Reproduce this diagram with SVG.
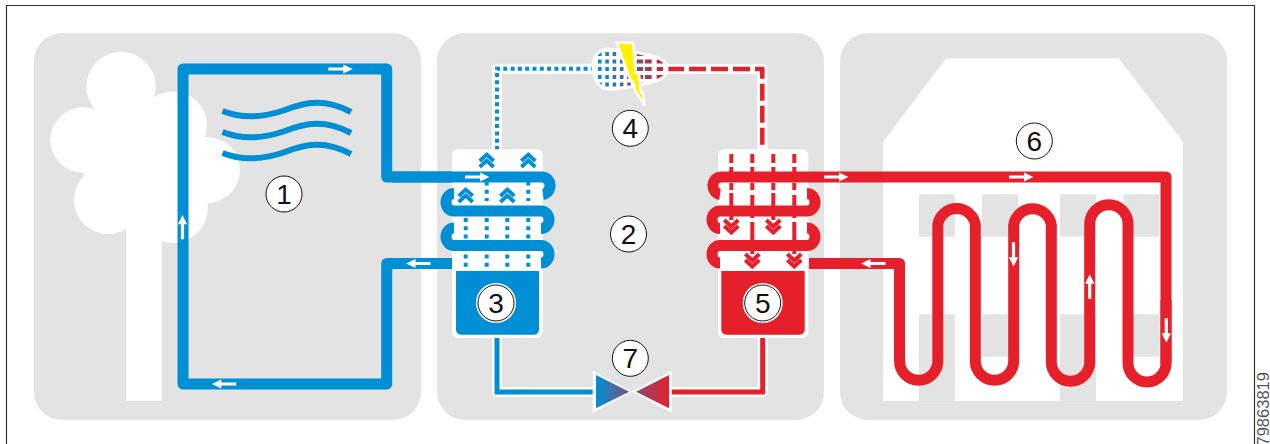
<svg xmlns="http://www.w3.org/2000/svg" width="1270" height="444" viewBox="0 0 1270 444">
<style>
.panel{fill:#e3e3e3}
.w{fill:#fff}
.bp{fill:none;stroke:#008fd5;stroke-width:11;stroke-linejoin:round}
.rp{fill:none;stroke:#e5202a;stroke-width:11;stroke-linejoin:round}
.wave{fill:none;stroke:#008fd5;stroke-width:6}
.bd{fill:none;stroke:#008fd5;stroke-width:4;stroke-dasharray:4 4.2}
.rd{fill:none;stroke:#e5202a;stroke-width:4}
.halo{fill:none;stroke:#fff;stroke-width:10;stroke-linejoin:round}
.chb{fill:none;stroke:#008fd5;stroke-width:3.8}
.chr{fill:none;stroke:#e5202a;stroke-width:4}
.ring{fill:#fff;stroke:#111;stroke-width:1}
.num{font-family:"Liberation Sans",Arial,sans-serif;font-size:28px;fill:#111;text-anchor:middle}
.ar{fill:#fff}
</style>
<defs>
<path id="arrow" d="M0-1.6H15V-4.6L24.4 0L15 4.6V1.6H0Z"/>
<path id="cu" d="M-7 8L0 1.5L7 8M-7 14L0 7.5L7 14"/>
<path id="cd" d="M-7-8L0-1.5L7-8M-7-14L0-7.5L7-14"/>
<linearGradient id="gc" gradientUnits="userSpaceOnUse" x1="600" y1="0" x2="665" y2="0"><stop offset="0" stop-color="#008fd5"/><stop offset="1" stop-color="#d8202e"/></linearGradient>
<linearGradient id="gb" gradientUnits="userSpaceOnUse" x1="596" y1="0" x2="630" y2="0"><stop offset="0" stop-color="#008fd5"/><stop offset="1" stop-color="#80507a"/></linearGradient>
<linearGradient id="gr" gradientUnits="userSpaceOnUse" x1="669" y1="0" x2="636" y2="0"><stop offset="0" stop-color="#e5202a"/><stop offset="1" stop-color="#8a4a72"/></linearGradient>
<clipPath id="cc"><path d="M594.5 66C594.5 56 601 50.5 608 50.5C625 50.5 640 54.5 652 57.5C661 59.5 666 64 666 69C666 74 661 78.5 652 80.5C640 83.5 625 87.5 608 87.5C601 87.5 594.5 79 594.5 66Z"/></clipPath>
</defs>

<g id="frame"><path d="M6.5 444V5.5H1254.5V444" fill="none" stroke="#333" stroke-width="1.2"/></g>

<g id="source-panel">
<rect class="panel" x="34" y="33" width="387" height="387" rx="28"/>
<g id="tree" class="w">
<circle cx="121" cy="86.5" r="34.7"/><circle cx="173" cy="125.5" r="34"/><circle cx="83" cy="140" r="32.7"/><circle cx="207" cy="170" r="33"/><circle cx="108" cy="200" r="34"/><circle cx="173" cy="208" r="35"/><circle cx="135" cy="155" r="55"/>
<rect x="126" y="200" width="35.7" height="200.7"/>
</g>
</g>
<g id="process-panel"><rect class="panel" x="437" y="33" width="387" height="387" rx="28"/></g>
<g id="building-panel">
<rect class="panel" x="840" y="33" width="387" height="387" rx="28"/>
<path id="house" class="w" d="M883.3 141.7L946 58.3H1118.7L1183 141.7V400.7H883.3Z"/>
<path id="windows" class="panel" d="M919 194.3h36v42.4h-36zM982 194.3h36.3v42.4h-36.3zM1060 194.3h36v42.4h-36zM1123.3 194.3h36v42.4h-36zM919 314.3h36v86.4h-36zM982 314.3h36.3v42.4h-36.3zM1060 314.3h36v86.4h-36zM1123.3 314.3h36v42.4h-36z"/>
</g>

<g id="connectors">
<path class="wave" d="M222.5 111C240 118 262 118 285 110C305 102 325 98 351 112"/>
<path class="wave" d="M222.5 132C240 139 262 139 285 131C305 123 325 119 351 133"/>
<path class="wave" d="M222.5 153C240 160 262 160 285 152C305 144 325 140 351 154"/>
<path class="bp" d="M452 263.5H386.7V384H183V69H386.7V177H452"/>

<path class="halo" d="M497 150V68.7H595"/>
<path class="bd" d="M497 150V68.7H595" style="stroke-dasharray:4 3.3"/>
<path class="halo" d="M665 69H762.3V150"/>
<path class="rd" d="M667 69H762.3V150" style="stroke-width:4.5;stroke-dasharray:17 5"/>

<path class="halo" d="M497 337V392H594"/>
<path class="bp" style="stroke-width:5;stroke-linejoin:miter" d="M497 334V392H594"/>
<path class="halo" d="M762.7 337V392H671"/>
<path class="rp" style="stroke-width:5;stroke-linejoin:miter" d="M762.7 334V392H671"/>
</g>

<g id="evaporator">
<rect class="w" x="452" y="149.3" width="90.7" height="188.7" rx="6"/>
<path d="M456 271H539V329.7a5 5 0 0 1-5 5H461a5 5 0 0 1-5-5Z" fill="#008fd5"/>
<path class="bd" d="M465.7 218V239M465.7 254.5V268M486.7 181.5V201M486.7 218V239M486.7 254.5V268M507.3 218V239M507.3 254.5V268M528.3 181.5V201M528.3 218V239M528.3 254.5V268"/>
<g class="chb"><use href="#cu" x="486.7" y="153"/><use href="#cu" x="528.3" y="153"/><use href="#cu" x="465.7" y="188"/><use href="#cu" x="507.3" y="188"/></g>
<path class="bp" d="M392 177H541A8 8.75 0 0 1 543 194.5"/>
<path class="bp" d="M454 193.5A8 8.75 0 0 0 454 211H541A8 8.75 0 0 1 541 228.5"/>
<path class="bp" d="M454 228A8 8.75 0 0 0 454 245.5H541A8 8.75 0 0 1 541 263"/>
</g>

<g id="condenser">
<rect class="w" x="718" y="149.3" width="90.3" height="188.7" rx="6"/>
<path d="M721.3 271H804.7V329.7a5 5 0 0 1-5 5H726.3a5 5 0 0 1-5-5Z" fill="#e5202a"/>
<path class="rd" d="M731.3 154V163M731.3 167V172M731.3 183V190M731.3 193V220M752.3 154V163M752.3 167V172M752.3 183V190M752.3 195V218M752.3 222V254M773.3 154V163M773.3 167V172M773.3 183V190M773.3 193V220M794.3 154V163M794.3 167V172M794.3 183V190M794.3 195V218M794.3 222V254"/>
<g class="chr"><use href="#cd" x="731.3" y="234"/><use href="#cd" x="773.3" y="234"/><use href="#cd" x="752.3" y="268"/><use href="#cd" x="794.3" y="268"/></g>
<path class="rp" d="M1166 363V177H722A8 8.75 0 0 0 720 194.5"/>
<path class="rp" d="M807 193.5A8 8.75 0 0 1 807 211H720A8 8.75 0 0 0 720 228.5"/>
<path class="rp" d="M807 228A8 8.75 0 0 1 807 245.5H720A8 8.75 0 0 0 720 263"/>
</g>

<g id="floor-heating">
<path class="rp" d="M809 263.5H899.5V361A19 19 0 0 0 937.8 361V224.5A19 19 0 0 1 975.3 224.5V361A19 19 0 0 0 1013.7 361V225A19 19 0 0 1 1051.3 225V362A19 19 0 0 0 1089.7 362V224A19 19 0 0 1 1128 224V363A19 19 0 0 0 1166 363V300"/>
</g>

<g id="compressor">
<path d="M593 66C593 55 600 49 608 49C625 49 640 53 652 56C662 58 667 63 667 69C667 75 662 80 652 82C640 85 625 89 608 89C600 89 593 80 593 66Z" fill="#fff" stroke="#fff" stroke-width="3"/>
<g clip-path="url(#cc)">
<path d="M598 54H667M598 61.5H667M598 69H667M598 77H667M598 84.5H667" fill="none" stroke="url(#gc)" stroke-width="4" style="stroke-dasharray:3.6 3.7 3.6 3.7 3.6 3.7 3.6 3.7 3.6 5.9 6.6 1.7 6.7 5 6.3 20"/>
</g>
<polygon points="616.8,42.7 633,42.7 635.8,72.7 638.8,72.7 641.2,92.7 643.2,93.3 644.5,106 633,86 635,85.3 629.5,77.7" fill="#fff000" stroke="#fff" stroke-width="2.5"/>
</g>

<g id="valve">
<path class="w" d="M592.7 370.7L632 391.7L671.7 370.7V412.7L632 391.7L592.7 412.7Z"/>
<path d="M596 375L629.3 391.7L596 408.3Z" fill="url(#gb)"/>
<path d="M669 375L636 391.7L669 408.3Z" fill="url(#gr)"/>
</g>

<g id="flow-arrows" class="ar">
<use href="#arrow" x="328.3" y="69"/>
<use href="#arrow" transform="translate(182.5 239.3) rotate(-90)"/>
<use href="#arrow" transform="translate(236.3 384) rotate(180)"/>
<use href="#arrow" transform="translate(430.5 263.5) rotate(180)"/>
<use href="#arrow" x="465" y="177"/>
<use href="#arrow" x="824" y="177"/>
<use href="#arrow" x="1009" y="177"/>
<use href="#arrow" transform="translate(885.5 263.5) rotate(180)"/>
<use href="#arrow" transform="translate(1013.5 242.3) rotate(90)"/>
<use href="#arrow" transform="translate(1089.7 298.7) rotate(-90)"/>
<use href="#arrow" transform="translate(1166.3 318.3) rotate(90)"/>
</g>

<g id="n1"><circle class="ring" cx="284" cy="194" r="18"/><text class="num" x="284" y="204">1</text></g>
<g id="n2"><circle class="ring" cx="628.5" cy="234" r="18"/><text class="num" x="628.5" y="244">2</text></g>
<g id="n3"><circle cx="496" cy="303" r="20" fill="#fff"/><circle class="ring" cx="496" cy="303" r="18"/><text class="num" x="496" y="313">3</text></g>
<g id="n4"><circle class="ring" cx="630.3" cy="128.3" r="18"/><text class="num" x="630.3" y="138.3">4</text></g>
<g id="n5"><circle cx="762.7" cy="303" r="20" fill="#fff"/><circle class="ring" cx="762.7" cy="303" r="18"/><text class="num" x="762.7" y="313">5</text></g>
<g id="n6"><circle class="ring" cx="1034.3" cy="141" r="18"/><text class="num" x="1034.3" y="151">6</text></g>
<g id="n7"><circle class="ring" cx="630.3" cy="358.3" r="18"/><text class="num" x="630.3" y="368.3">7</text></g>

<text id="ref" transform="translate(1269 445.5) rotate(-90)" font-family="'Liberation Sans',Arial,sans-serif" font-size="16.5" fill="#555">79863819</text>
</svg>
